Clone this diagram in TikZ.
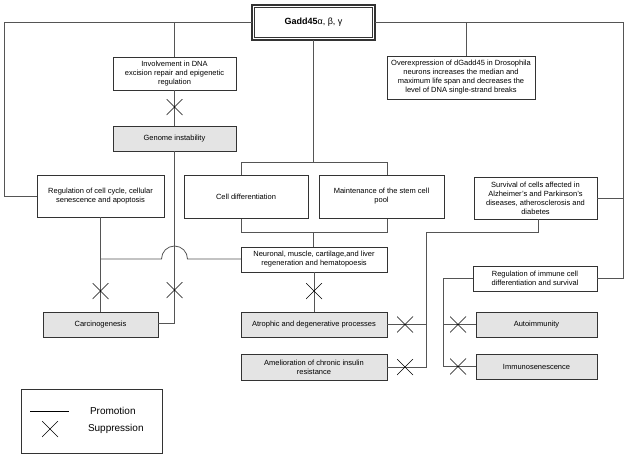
\documentclass[tikz,border=0pt]{standalone}
\usepackage{fontspec}
\setmainfont{Liberation Sans}
\definecolor{linec}{HTML}{555555}
\definecolor{boxc}{HTML}{333333}
\definecolor{fillc}{HTML}{E4E4E4}
\begin{document}
\begin{tikzpicture}[x=1pt,y=1pt,
  every node/.style={inner sep=0pt, outer sep=0pt},
  box/.style={draw=boxc, line width=0.8pt, fill=white, align=center,
    font=\fontsize{7.5}{9}\selectfont},
  gbox/.style={box, fill=fillc},
  conn/.style={draw=linec, line width=0.8pt},
  xm/.style={minimum size=16pt, path picture={
    \draw[black, line width=0.6pt] (path picture bounding box.south west) -- (path picture bounding box.north east)
      (path picture bounding box.north west) -- (path picture bounding box.south east);}}
]
\useasboundingbox (0,0) rectangle (629,-458);

% background rectangle behind differentiation boxes
\draw[conn] (241,-162) rectangle (387,-232);

% Boxes
\node[box, minimum width=123pt, minimum height=35pt, line width=1.6pt, font=\fontsize{9}{11}\selectfont] (gadd) at (313.5,-22.5) {\textbf{Gadd45}α, β, γ};
\draw[boxc, line width=0.5pt] ([shift={(2.6pt,2.6pt)}]gadd.south west) rectangle ([shift={(-2.6pt,-2.6pt)}]gadd.north east);
\node[box, minimum width=123pt, minimum height=33pt] (inv) at (174.5,-73.5) {Involvement in DNA\\excision repair and epigenetic\\regulation};
\node[gbox, minimum width=123pt, minimum height=25pt] (gen) at (174.5,-138.5) {Genome instability};
\node[box, minimum width=148pt, minimum height=43pt] (over) at (461,-77.5) {Overexpression of dGadd45 in Drosophila\\neurons increases the median and\\maximum life span and decreases the\\level of DNA single-strand breaks};
\node[box, minimum width=127pt, minimum height=42pt] (regcc) at (100.5,-196) {Regulation of cell cycle, cellular\\senescence and apoptosis};
\node[box, minimum width=124pt, minimum height=43pt] (cdiff) at (246,-196.5) {Cell differentiation};
\node[box, minimum width=125pt, minimum height=43pt] (maint) at (381.5,-196.5) {Maintenance of the stem cell\\pool};
\node[box, minimum width=123pt, minimum height=42pt] (surv) at (535.5,-198) {Survival of cells affected in\\Alzheimer's and Parkinson's\\diseases, atherosclerosis and\\diabetes};
\node[box, minimum width=146pt, minimum height=25pt] (neur) at (314,-259.5) {Neuronal, muscle, cartilage,and liver\\regeneration and hematopoesis};
\node[box, minimum width=124pt, minimum height=25pt] (regim) at (535,-278.5) {Regulation of immune cell\\differentiation and survival};
\node[gbox, minimum width=115pt, minimum height=25pt] (carc) at (100.5,-324.5) {Carcinogenesis};
\node[gbox, minimum width=146pt, minimum height=25pt] (atro) at (314,-324.5) {Atrophic and degenerative processes};
\node[gbox, minimum width=146pt, minimum height=26pt] (amel) at (314,-367) {Amelioration of chronic insulin\\resistance};
\node[gbox, minimum width=121pt, minimum height=25pt] (auto) at (536.5,-324.5) {Autoimmunity};
\node[gbox, minimum width=121pt, minimum height=25pt] (imm) at (536.5,-366.5) {Immunosenescence};

% Connectors
\coordinate (tl) at (4,-22.5);
\coordinate (tr) at (623,-22.5);
\draw[conn] (gadd.west) -- (tl) |- (regcc.west);
\draw[conn] (gadd.east) -- (tr) |- (regim.east);
\draw[conn] (surv.east) -- (tr |- surv.east);
\draw[conn] (174.5,-22.5) -- (inv.north);
\draw[conn] (inv.south) -- (gen.north);
\draw[conn] (466,-22.5) -- (466,0 |- over.north);
\draw[conn] (gadd.south) -- (313.5,-162);
\draw[conn] (313.5,-232) -- (313.5,0 |- neur.north);
\coordinate (cc) at (174.5,-323);
\draw[conn] (gen.south) -- (174.5,-259) ++(0,0) (gen.south) -- (cc) -- (carc.east |- cc);
\draw[conn] (neur.west |- 0,-259) -- (187.5,-259) arc[start angle=0, end angle=180, radius=13] -- (100.5,-259);
\draw[conn] (regcc.south) -- (carc.north);
\draw[conn] (neur.south) -- (314,0 |- atro.north);
\coordinate (vr) at (426,-232);
\draw[conn] (amel.east) -- (426,-367) -- (vr) -- (538,-232) -- (538,0 |- surv.south);
\draw[conn] (atro.east) -- (426,-324.5);
\coordinate (vi) at (443,-278.5);
\draw[conn] (regim.west) -- (vi) |- (imm.west);
\draw[conn] (443,-324.5) -- (auto.west);

% Suppression marks
\node[xm] (x1) at (174.5,-107) {};
\node[xm] (x2) at (100.5,-291) {};
\node[xm] (x3) at (174.5,-290) {};
\node[xm] (x4) at (314,-291) {};
\node[xm] (x5) at (405,-324.5) {};
\node[xm] (x6) at (405,-367) {};
\node[xm] (x7) at (458,-324.5) {};
\node[xm] (x8) at (458,-366.5) {};

% Legend
\node[draw=boxc, line width=0.8pt, minimum width=141pt, minimum height=64pt] (leg) at (91.5,-421) {};
\coordinate (pl1) at (30,-411);
\coordinate (pl2) at (69,-411);
\draw[black, line width=0.6pt] (pl1) -- (pl2);
\node[anchor=west, font=\fontsize{10}{12}\selectfont] (prom) at (90,-411) {Promotion};
\node[xm] (lx) at (50,-429) {};
\node[anchor=west, font=\fontsize{10}{12}\selectfont] (supp) at (88,-429) {Suppression};
\end{tikzpicture}
\end{document}
